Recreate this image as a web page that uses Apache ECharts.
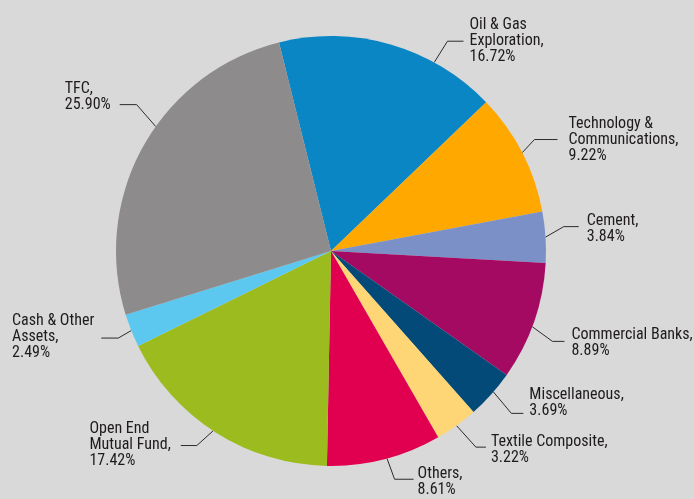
<!DOCTYPE html>
<html>
<head>
<meta charset="utf-8">
<style>
  html, body { margin: 0; padding: 0; background: #d9d9d9; }
  #chart { width: 694px; height: 499px; }
</style>
<script src="https://cdn.jsdelivr.net/npm/echarts@6/dist/echarts.min.js"></script>
</head>
<body>
<div id="chart"></div>
<script>
// Portfolio allocation by sector (% of net assets), clockwise from the top.
const categories = [
  'Oil & Gas\nExploration',
  'Technology &\nCommunications',
  'Cement',
  'Commercial Banks',
  'Miscellaneous',
  'Textile Composite',
  'Others',
  'Open End\nMutual Fund',
  'Cash & Other\nAssets',
  'TFC'
];
const shares = [16.72, 9.22, 3.84, 8.89, 3.69, 3.22, 8.61, 17.42, 2.49, 25.90];
const sliceColors = [
  '#0a86c5', '#fea800', '#7b90c6', '#a50a62', '#034a78',
  '#fed675', '#e1004f', '#9cbb1e', '#5cc8f0', '#8d8b8b'
];

// Pie geometry
const CX = 331, CY = 251, R = 215;

// Leader line styling per label: anchor shift along the rim (deg),
// connector direction (deg, counter-clockwise from east), connector length,
// horizontal tail length, gap before text, vertical text offset.
const leaders = [
  { shift: -12.6, dir: 58,   leg: 25, tail: 16, gap: 6,  dy: 0 },
  { shift: 0,     dir: 47,   leg: 18, tail: 23, gap: 11, dy: 0 },
  { shift: 0,     dir: 30,   leg: 21, tail: 15, gap: 8,  dy: 2 },
  { shift: -1.4,  dir: -36,  leg: 25, tail: 12, gap: 7,  dy: 2 },
  { shift: 0.9,   dir: -50,  leg: 28, tail: 12, gap: 6,  dy: -10 },
  { shift: 0,     dir: -48,  leg: 29, tail: 10, gap: 5,  dy: 3 },
  { shift: 0.7,   dir: -70,  leg: 22, tail: 19, gap: 4,  dy: 3 },
  { shift: -0.8,  dir: -138, leg: 22, tail: 16, gap: 10, dy: -1 },
  { shift: 0,     dir: 210,  leg: 15, tail: 17, gap: 7,  dy: -1 },
  { shift: -6,    dir: 131,  leg: 29, tail: 17, gap: 9,  dy: -8 }
];

const chart = echarts.init(document.getElementById('chart'), null, { renderer: 'canvas' });

const rad = d => d * Math.PI / 180;

chart.setOption({
  backgroundColor: '#d9d9d9',
  animation: false,
  series: [{
    type: 'pie',
    center: [CX, CY],
    radius: [0, R],
    startAngle: 104,
    clockwise: true,
    avoidLabelOverlap: false,
    data: categories.map((name, i) => ({
      name: name,
      value: shares[i],
      itemStyle: { color: sliceColors[i] }
    })),
    itemStyle: { borderWidth: 0 },
    label: {
      show: true,
      position: 'outside',
      bleedMargin: 0,
      overflow: 'none',
      formatter: p => p.name + ',\n' + p.value.toFixed(2) + '%',
      color: '#1f1b1c',
      fontFamily: "'Liberation Sans Narrow', 'Roboto Condensed', 'DejaVu Sans Condensed', sans-serif",
      fontSize: 16,
      lineHeight: 16,
      align: 'left'
    },
    labelLine: {
      show: true,
      smooth: false,
      length: 15,
      length2: 15,
      lineStyle: { color: '#2b2b2b', width: 1 }
    },
    emphasis: { disabled: true },
    labelLayout: function (params) {
      const cfg = leaders[params.dataIndex];
      const p0 = params.labelLinePoints[0];
      const a0 = Math.atan2(-(p0[1] - CY), p0[0] - CX) * 180 / Math.PI;
      const a = rad(a0 + cfg.shift);
      const x1 = CX + R * Math.cos(a);
      const y1 = CY - R * Math.sin(a);
      const x2 = x1 + cfg.leg * Math.cos(rad(cfg.dir));
      const y2 = y1 - cfg.leg * Math.sin(rad(cfg.dir));
      const side = x2 >= CX ? 1 : -1;
      const x3 = x2 + side * cfg.tail;
      const y3 = y2;
      const w = params.labelRect.width;
      const tx = side > 0 ? x3 + cfg.gap : x3 - cfg.gap - w;
      return {
        x: tx,
        y: y3 + cfg.dy,
        align: 'left',
        verticalAlign: 'middle',
        labelLinePoints: [[x1, y1], [x2, y2], [x3, y3]]
      };
    }
  }]
});
</script>
</body>
</html>
